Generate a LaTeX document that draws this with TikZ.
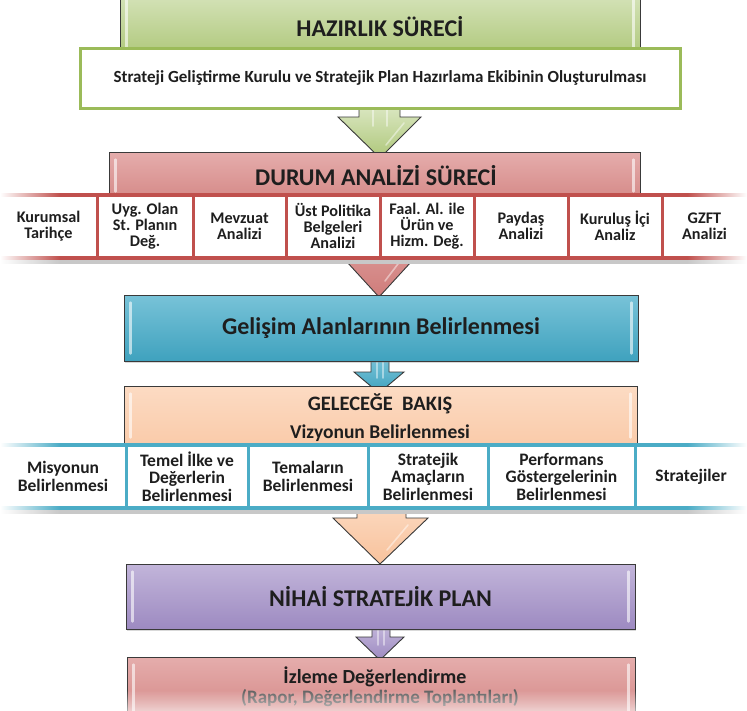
\documentclass[tikz,border=0pt]{standalone}
\usepackage{fontspec}
\setmainfont{Carlito}
\usetikzlibrary{fadings,shadows}
\definecolor{txt}{HTML}{1E1E1E}
\definecolor{grnL}{HTML}{DCE8C4}
\definecolor{grnD}{HTML}{AEC77A}
\definecolor{grnB}{HTML}{9BBB59}
\definecolor{redL}{HTML}{E5ADAC}
\definecolor{redD}{HTML}{CF7C7A}
\definecolor{redB}{HTML}{C0504D}
\definecolor{bluL}{HTML}{78C3D8}
\definecolor{bluD}{HTML}{3FA2BE}
\definecolor{bluB}{HTML}{4BACC6}
\definecolor{pchL}{HTML}{FCDBC3}
\definecolor{pchD}{HTML}{F8C29C}
\definecolor{purL}{HTML}{C2B5DA}
\definecolor{purD}{HTML}{9D8AC1}
\definecolor{edge}{HTML}{3A3A3A}
\definecolor{shd}{HTML}{C8C8C8}
\pgfdeclarehorizontalshading{redband}{100bp}{color(0bp)=(white); color(25bp)=(white); color(29bp)=(redB); color(71bp)=(redB); color(75bp)=(white); color(100bp)=(white)}
\pgfdeclarehorizontalshading{bluband}{100bp}{color(0bp)=(white); color(25bp)=(white); color(29bp)=(bluB); color(71bp)=(bluB); color(75bp)=(white); color(100bp)=(white)}
\pgfdeclarehorizontalshading{shband}{100bp}{color(0bp)=(white); color(25bp)=(white); color(29bp)=(shd); color(71bp)=(shd); color(75bp)=(white); color(100bp)=(white)}
\begin{document}
\begin{tikzpicture}[x=1pt,y=-1pt,
  ttl/.style={font=\fontsize{24}{26}\selectfont\bfseries, text=txt, inner sep=0pt, anchor=base},
  subt/.style={font=\fontsize{19.5}{22}\selectfont\bfseries, text=txt, inner sep=0pt, anchor=base},
  gloss/.style={draw=edge, line width=1pt, inner sep=0pt, drop shadow={shadow xshift=1.2pt, shadow yshift=-1.5pt, opacity=.3}},
  cellA/.style={inner sep=0pt, minimum height=62pt, align=center, text=txt, font=\fontsize{16.2}{16}\selectfont\bfseries},
  cellB/.style={inner sep=0pt, minimum height=63pt, align=center, text=txt, font=\fontsize{17.5}{17.5}\selectfont\bfseries},
  rdiv/.style={draw=redB, line width=2.6pt},
  bdiv/.style={draw=bluB, line width=2.6pt},
  hl/.style={draw=white, draw opacity=.6, line width=2.4pt, line cap=round},
  ahl/.style={draw=white, draw opacity=.45, line width=1.6pt, line cap=round},
  barrow/.style={draw=edge, line width=0.9pt, line join=miter},
]
\useasboundingbox (0,0) rectangle (747,710);

% ---- block arrows (behind boxes)
\draw[barrow, top color=grnL, bottom color=grnD] (359,104) -- (400,104) -- (400,117) -- (421,117) -- (380,158) -- (338,117) -- (359,117) -- cycle;
\draw[ahl] (373,108) -- (373,126); \draw[ahl] (387,108) -- (387,126); \draw[ahl] (404,123) -- (386,145);
\draw[barrow, top color=redL, bottom color=redD] (357,205) -- (403,205) -- (403,250) -- (422,250) -- (379,297) -- (336,250) -- (357,250) -- cycle;
\draw[ahl] (404,256) -- (385,281);
\draw[barrow, top color=bluL, bottom color=bluD] (371,358) -- (389,358) -- (389,372) -- (404,372) -- (379,393) -- (354,372) -- (371,372) -- cycle;
\draw[ahl] (377,362) -- (377,378); \draw[ahl] (383,362) -- (383,378);
\draw[barrow, top color=pchL, bottom color=pchD] (357,498) -- (406,498) -- (406,518) -- (428,518) -- (380,564) -- (333,518) -- (357,518) -- cycle;
\draw[ahl] (408,525) -- (387,550);
\draw[barrow, top color=purL, bottom color=purD] (372,626) -- (390,626) -- (390,637) -- (404,637) -- (380,660) -- (356,637) -- (372,637) -- cycle;
\draw[ahl] (378,630) -- (378,645); \draw[ahl] (384,630) -- (384,645);

% ---- HAZIRLIK
\node[gloss, minimum width=520pt, minimum height=75pt, top color=grnL, bottom color=grnD] (hazbox) at (380,20) {};
\draw[hl] ([xshift=7pt,yshift=-12pt]hazbox.north west) -- ([xshift=7pt,yshift=8pt]hazbox.south west);
\draw[hl] ([xshift=-7pt,yshift=-12pt]hazbox.north east) -- ([xshift=-7pt,yshift=8pt]hazbox.south east);
\node[ttl] (haztxt) at (380,36) {HAZIRLIK SÜRECİ};
\node[draw=grnB, line width=3pt, fill=white, minimum width=600pt, minimum height=60pt,
      drop shadow={shadow xshift=1.2pt, shadow yshift=-1.8pt, opacity=.3},
      font=\fontsize{17}{19}\selectfont\bfseries, text=txt] (wbox) at (380,78) {Strateji Geliştirme Kurulu ve Stratejik Plan Hazırlama Ekibinin Oluşturulması};

% ---- DURUM ANALIZI
\node[gloss, minimum width=531pt, minimum height=65pt, top color=redL, bottom color=redD] (durbox) at (374.5,184.5) {};
\draw[hl] ([xshift=7pt,yshift=-8pt]durbox.north west) -- ([xshift=7pt,yshift=-40pt]durbox.north west);
\draw[hl] ([xshift=-7pt,yshift=-8pt]durbox.north east) -- ([xshift=-7pt,yshift=-40pt]durbox.north east);
\node[ttl] (durtxt) at (376,185) {DURUM ANALİZİ SÜRECİ};

\fill[white] (0,195) rectangle (747,258);
\shade[shading=redband] (0,193) rectangle (747,196.5);
\shade[shading=redband] (0,256.5) rectangle (747,260);
\shade[shading=shband] (0,260) rectangle (747,263);
\node[cellA, minimum width=97pt] (a1) at (48.5,226) {Kurumsal\\Tarihçe};
\node[cellA, minimum width=96pt] (a2) at (145,226) {Uyg. Olan\\St. Planın\\Değ.};
\node[cellA, minimum width=93pt] (a3) at (239.5,226) {Mevzuat\\Analizi};
\node[cellA, minimum width=94pt] (a4) at (333,226) {Üst Politika\\Belgeleri\\Analizi};
\node[cellA, minimum width=94pt] (a5) at (427,226) {Faal. Al. ile\\Ürün ve\\Hizm. Değ.};
\node[cellA, minimum width=94pt] (a6) at (521,226) {Paydaş\\Analizi};
\node[cellA, minimum width=94pt] (a7) at (615,226) {Kuruluş İçi\\Analiz};
\node[cellA, minimum width=85pt] (a8) at (704.5,226) {GZFT\\Analizi};
\foreach \n in {a1,a2,a3,a4,a5,a6,a7}
  \draw[rdiv] ([yshift=-1.5pt]\n.north east) -- ([yshift=1.5pt]\n.south east);

% ---- Gelisim
\node[gloss, minimum width=514pt, minimum height=66pt, top color=bluL, bottom color=bluD,
      font=\fontsize{24}{26}\selectfont\bfseries, text=txt] (gel) at (381,328) {Gelişim Alanlarının Belirlenmesi};
\draw[hl] ([xshift=7pt,yshift=-8pt]gel.north west) -- ([xshift=7pt,yshift=8pt]gel.south west);
\draw[hl] ([xshift=-7pt,yshift=-8pt]gel.north east) -- ([xshift=-7pt,yshift=8pt]gel.south east);

% ---- Gelecege bakis
\node[gloss, minimum width=513pt, minimum height=90pt, top color=pchL, bottom color=pchD] (gbox) at (380.5,431) {};
\draw[hl] ([xshift=7pt,yshift=-8pt]gbox.north west) -- ([xshift=7pt,yshift=-52pt]gbox.north west);
\draw[hl] ([xshift=-7pt,yshift=-8pt]gbox.north east) -- ([xshift=-7pt,yshift=-52pt]gbox.north east);
\node[subt, font=\fontsize{20.5}{22}\selectfont\bfseries] (gtxt) at (380,410.5) {GELECEĞE~~BAKIŞ};
\node[subt] (viz) at (380,438) {Vizyonun Belirlenmesi};

\fill[white] (0,445) rectangle (747,508);
\shade[shading=bluband] (0,443) rectangle (747,446.5);
\shade[shading=bluband] (0,506.5) rectangle (747,510);
\shade[shading=shband] (0,510) rectangle (747,513);
\node[cellB, minimum width=126pt] (b1) at (63,476.5) {Misyonun\\Belirlenmesi};
\node[cellB, minimum width=122pt] (b2) at (187,476.5) {Temel İlke ve\\Değerlerin\\Belirlenmesi};
\node[cellB, minimum width=120pt] (b3) at (308,476.5) {Temaların\\Belirlenmesi};
\node[cellB, minimum width=120pt] (b4) at (428,476.5) {Stratejik\\Amaçların\\Belirlenmesi};
\node[cellB, minimum width=147pt] (b5) at (561.5,476.5) {Performans\\Göstergelerinin\\Belirlenmesi};
\node[cellB, minimum width=112pt] (b6) at (691,476.5) {Stratejiler};
\foreach \n in {b1,b2,b3,b4,b5}
  \draw[bdiv] ([yshift=-1.5pt]\n.north east) -- ([yshift=1.5pt]\n.south east);

% ---- Nihai
\node[gloss, minimum width=509pt, minimum height=65pt, top color=purL, bottom color=purD,
      font=\fontsize{24}{26}\selectfont\bfseries, text=txt] (nih) at (380.5,596.5) {NİHAİ STRATEJİK PLAN};
\draw[hl] ([xshift=7pt,yshift=-8pt]nih.north west) -- ([xshift=7pt,yshift=8pt]nih.south west);
\draw[hl] ([xshift=-7pt,yshift=-8pt]nih.north east) -- ([xshift=-7pt,yshift=8pt]nih.south east);

% ---- Izleme
\node[gloss, minimum width=508pt, minimum height=80pt, top color=redL, bottom color=redD] (izl) at (381,697) {};
\draw[hl] ([xshift=7pt,yshift=-8pt]izl.north west) -- ([xshift=7pt,yshift=-60pt]izl.north west);
\draw[hl] ([xshift=-7pt,yshift=-8pt]izl.north east) -- ([xshift=-7pt,yshift=-60pt]izl.north east);
\node[subt, font=\fontsize{20}{22}\selectfont\bfseries] (izt) at (375,683) {İzleme Değerlendirme};
\node[subt, font=\fontsize{19}{22}\selectfont\bfseries, text=txt!70] (rap) at (380,703) {(Rapor, Değerlendirme Toplantıları)};
\fill[white, fill opacity=.6, path fading=north] (100,690) rectangle (670,711);
\end{tikzpicture}
\end{document}
